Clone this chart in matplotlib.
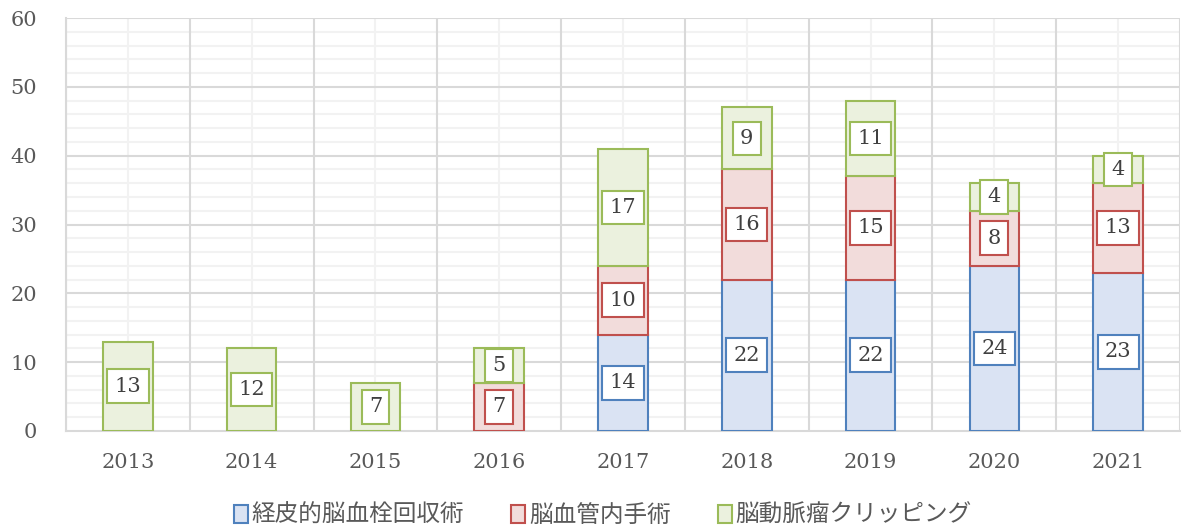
import numpy as np
import matplotlib.pyplot as plt
from matplotlib.patches import Patch
from matplotlib.ticker import MultipleLocator

years = ["2013", "2014", "2015", "2016", "2017", "2018", "2019", "2020", "2021"]
series_names = ["経皮的脳血栓回収術", "脳血管内手術", "脳動脈瘤クリッピング"]
thrombectomy = [0, 0, 0, 0, 14, 22, 22, 24, 23]
endovascular = [0, 0, 0, 7, 10, 16, 15, 8, 13]
clipping = [13, 12, 7, 5, 17, 9, 11, 4, 4]

face_colors = ["#DAE3F3", "#F2DCDB", "#EBF1DE"]
edge_colors = ["#4F81BD", "#C0504D", "#9BBB59"]

fonts = ["DejaVu Serif", "Noto Sans CJK JP"]
plt.rcParams["font.family"] = fonts

fig = plt.figure(figsize=(11.82, 5.28), dpi=100)
ax = fig.add_axes([66 / 1182, 1 - 431 / 528, (1180 - 66) / 1182, (431 - 18) / 528])

x = np.arange(len(years))
bottom = np.zeros(len(years))
for vals, fc, ec in zip([thrombectomy, endovascular, clipping], face_colors, edge_colors):
    vals = np.array(vals, dtype=float)
    mask = vals > 0
    ax.bar(x[mask], vals[mask], bottom=bottom[mask], width=0.4,
           color=fc, edgecolor=ec, linewidth=1.5, zorder=3)
    for xi, b, v in zip(x[mask], bottom[mask], vals[mask]):
        ax.text(xi, b + v / 2, f"{int(v)}", ha="center", va="center",
                fontsize=15, color="#404040", zorder=5,
                bbox=dict(boxstyle="square,pad=0.35", fc="white", ec=ec, lw=1.5))
    bottom += vals

ax.set_xlim(-0.5, len(years) - 0.5)
ax.set_ylim(0, 60)
ax.yaxis.set_major_locator(MultipleLocator(10))
ax.yaxis.set_minor_locator(MultipleLocator(2))
ax.set_xticks(x)
ax.set_xticklabels(years)

# Excel-style grid: dark lines at major y and category boundaries, light lines elsewhere
ax.grid(False)
for yv in np.arange(2, 60.1, 2):
    major = yv % 10 == 0
    ax.axhline(yv, color="#D9D9D9" if major else "#F2F2F2", lw=1.5, zorder=1 if major else 0)
for xv in np.arange(-0.5, len(years), 1.0):
    ax.axvline(xv, color="#D9D9D9", lw=1.5, zorder=1)
for xv in x:
    ax.axvline(xv, color="#F2F2F2", lw=1.5, zorder=0)

for s in ["top", "right"]:
    ax.spines[s].set_visible(False)
ax.spines["left"].set_color("#D9D9D9")
ax.spines["bottom"].set_color("#D9D9D9")
ax.spines["left"].set_linewidth(1.5)
ax.spines["bottom"].set_linewidth(1.5)

ax.tick_params(axis="both", which="both", length=0, labelsize=15, labelcolor="#595959")
ax.tick_params(axis="y", pad=21)
ax.tick_params(axis="x", pad=16)

handles = [Patch(facecolor=fc, edgecolor=ec, linewidth=1.5) for fc, ec in zip(face_colors, edge_colors)]
fig.legend(handles, series_names, loc="center", bbox_to_anchor=(0.51, 0.024), ncol=3,
           frameon=False, fontsize=17, handlelength=0.6, handleheight=0.8,
           handletextpad=0.15, columnspacing=2.0, labelcolor="#595959")

fig.savefig("out.png", dpi=100)
